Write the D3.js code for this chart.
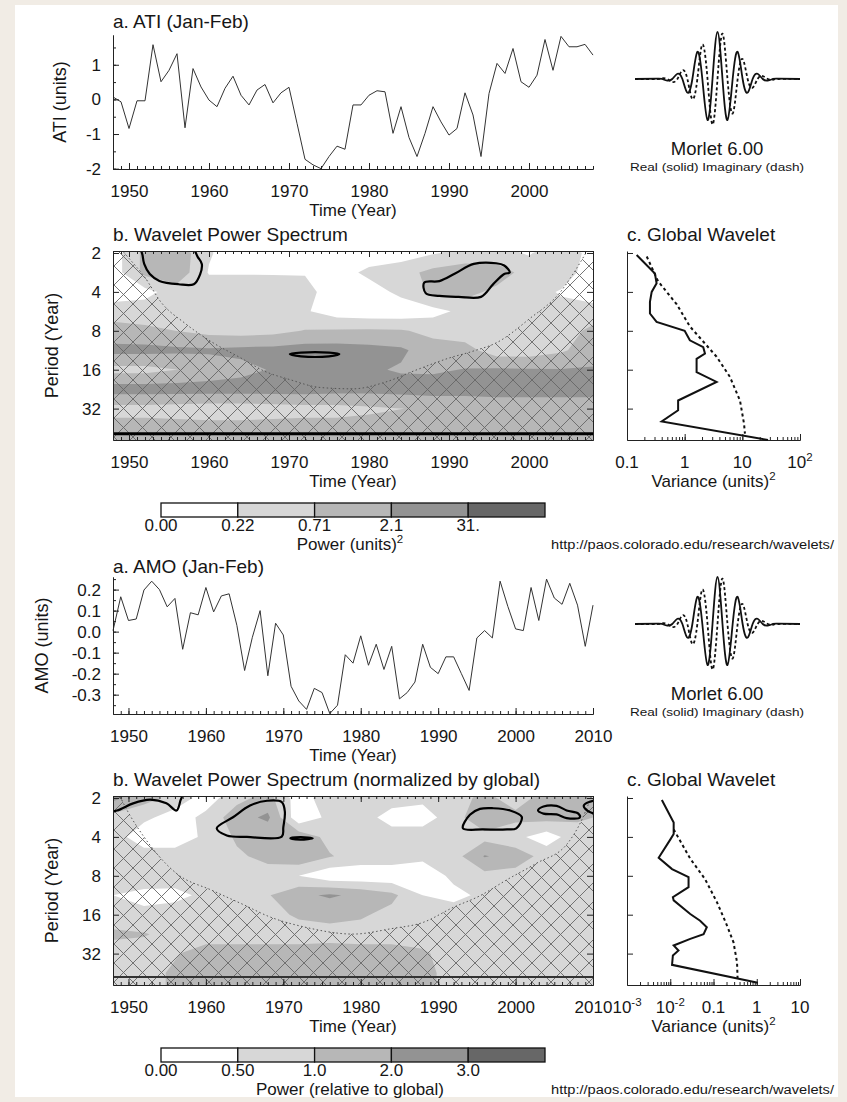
<!DOCTYPE html>
<html>
<head>
<meta charset="utf-8">
<title>Wavelet analysis ATI / AMO</title>
<script src="https://cdn.jsdelivr.net/npm/d3@7/dist/d3.min.js"></script>
<style>
  body { margin: 0; background: #f1ece5; }
  svg text { font-family: "Liberation Sans", Arial, sans-serif; fill: #161616; }
</style>
</head>
<body>
<div id="chart-area"></div>
<script>
// ---------------- data ----------------

// a. ATI (Jan-Feb), 1948-2008
var atiStart = 1948;
var atiValues = [
  0.07, -0.07, -0.84, -0.04, -0.04, 1.58, 0.51, 0.84, 1.32, -0.82,
  0.89, 0.36, -0.02, -0.21, 0.32, 0.67, 0.12, -0.16, 0.27, 0.43,
  -0.10, 0.19, 0.35, -0.69, -1.73, -1.89, -2.00, -1.65, -1.35, -1.44,
  -0.16, -0.16, 0.12, 0.25, 0.22, -0.98, -0.21, -1.10, -1.65, -0.98,
  -0.21, -0.65, -1.03, -0.84, 0.19, -0.45, -1.65, 0.17, 1.04, 0.75,
  1.47, 0.51, 0.35, 0.70, 1.73, 0.84, 1.82, 1.52, 1.52, 1.59, 1.28
];
var atiTicks = [-2, -1, 0, 1];

// a. AMO (Jan-Feb), 1948-2010
var amoStart = 1948;
var amoValues = [
  0.005, 0.166, 0.053, 0.060, 0.198, 0.240, 0.200, 0.118, 0.158, -0.084,
  0.090, 0.080, 0.210, 0.094, 0.170, 0.180, 0.030, -0.185, -0.027, 0.100,
  -0.210, 0.040, -0.016, -0.260, -0.330, -0.370, -0.270, -0.290, -0.390, -0.350,
  -0.110, -0.150, -0.020, -0.160, -0.060, -0.180, -0.070, -0.320, -0.290, -0.240,
  -0.060, -0.170, -0.200, -0.120, -0.120, -0.200, -0.280, -0.030, 0.005, -0.030,
  0.240, 0.120, 0.013, 0.005, 0.210, 0.053, 0.250, 0.160, 0.130, 0.230,
  0.126, -0.070, 0.126
];
var amoTicks = [-0.3, -0.2, -0.1, 0.0, 0.1, 0.2];

// wavelet power grids: columns = gridYears, rows = gridPeriods
var gridYears = [1948, 1952, 1956, 1960, 1964, 1968, 1972, 1976, 1980, 1984, 1988, 1992, 1996, 2000, 2004, 2008];
var gridPeriods = [2, 2.83, 4, 5.66, 8, 11.3, 16, 22.6, 32, 45.3, 64];

var atiPower = [
  [0.12, 1.0, 1.6, 0.25, 0.10, 0.10, 0.10, 0.10, 0.10, 0.12, 0.20, 0.30, 0.30, 0.20, 0.45, 0.15],
  [0.12, 1.0, 1.6, 0.20, 0.20, 0.20, 0.20, 0.12, 0.30, 0.45, 1.0, 1.5, 1.4, 0.40, 0.40, 0.12],
  [0.10, 0.15, 0.40, 0.45, 0.45, 0.42, 0.35, 0.10, 0.12, 0.30, 0.90, 1.1, 0.50, 0.35, 0.20, 0.10],
  [0.45, 0.40, 0.35, 0.30, 0.30, 0.30, 0.25, 0.12, 0.10, 0.10, 0.15, 0.30, 0.50, 0.35, 0.30, 0.40],
  [1.05, 0.90, 0.70, 0.50, 0.45, 0.50, 0.75, 0.80, 0.85, 0.80, 0.50, 0.40, 0.35, 0.35, 0.45, 0.90],
  [3.0, 3.0, 2.6, 2.5, 2.8, 3.0, 3.5, 3.5, 3.0, 2.5, 1.2, 1.05, 0.40, 0.40, 0.60, 1.3],
  [0.50, 0.50, 0.70, 1.05, 1.5, 2.3, 2.6, 2.7, 2.4, 1.9, 1.8, 2.2, 2.4, 2.3, 2.2, 2.3],
  [3.5, 3.5, 3.5, 3.5, 3.5, 3.5, 3.5, 3.2, 3.0, 3.2, 3.5, 3.5, 3.8, 3.8, 3.8, 3.8],
  [0.50, 0.50, 0.45, 0.40, 0.40, 0.45, 0.50, 0.50, 0.60, 0.70, 0.80, 0.80, 0.90, 0.90, 0.90, 0.90],
  [1.05, 1.05, 1.05, 1.05, 1.05, 1.05, 1.05, 1.05, 1.05, 1.05, 1.05, 1.05, 1.05, 1.05, 1.05, 1.05],
  [1.05, 1.05, 1.05, 1.05, 1.05, 1.05, 1.05, 1.05, 1.05, 1.05, 1.05, 1.05, 1.05, 1.05, 1.05, 1.05]
];

var amoPower = [
  [2.4, 1.3, 0.80, 0.35, 0.80, 1.3, 0.35, 0.75, 0.75, 0.75, 0.60, 0.75, 1.2, 0.75, 1.3, 1.3],
  [0.80, 0.60, 0.35, 0.60, 1.5, 2.3, 0.30, 0.60, 0.75, 0.35, 0.35, 0.75, 1.7, 1.2, 1.3, 1.1],
  [0.75, 0.30, 0.30, 0.60, 1.1, 1.2, 1.6, 0.80, 0.50, 0.75, 0.75, 0.75, 0.80, 0.60, 0.35, 0.75],
  [0.80, 0.75, 0.75, 0.80, 0.90, 1.2, 1.7, 1.05, 0.75, 0.75, 0.60, 0.75, 2.1, 1.5, 0.75, 0.70],
  [0.75, 0.80, 0.75, 0.75, 0.75, 0.75, 0.50, 0.30, 0.30, 0.30, 0.30, 0.60, 0.80, 0.75, 0.75, 0.60],
  [0.50, 0.40, 0.40, 0.60, 0.75, 0.95, 1.7, 2.2, 1.7, 1.2, 0.50, 0.40, 0.60, 0.75, 0.75, 0.75],
  [0.75, 0.60, 0.75, 0.75, 0.75, 0.80, 1.1, 1.2, 1.1, 0.80, 0.75, 0.75, 0.60, 0.75, 0.75, 0.75],
  [1.1, 1.05, 0.80, 0.75, 0.75, 0.75, 0.75, 0.80, 0.75, 0.75, 0.75, 0.60, 0.75, 0.75, 0.80, 0.80],
  [0.80, 0.75, 0.95, 1.3, 1.3, 1.3, 1.3, 1.3, 1.3, 1.3, 1.1, 0.75, 0.75, 0.75, 0.75, 0.75],
  [0.80, 0.80, 1.1, 1.3, 1.3, 1.3, 1.3, 1.3, 1.3, 1.3, 1.2, 0.80, 0.80, 0.80, 0.80, 0.80],
  [0.80, 0.80, 1.1, 1.3, 1.3, 1.3, 1.3, 1.3, 1.3, 1.3, 1.2, 0.80, 0.80, 0.80, 0.80, 0.80]
];

// contour levels and colour bar labels
var atiLevels = [0.22, 0.71, 2.1, 31];
var atiLevelLabels = ["0.00", "0.22", "0.71", "2.1", "31."];
var amoLevels = [0.5, 1.0, 2.0, 3.0];
var amoLevelLabels = ["0.00", "0.50", "1.0", "2.0", "3.0"];
var shades = ["#ffffff", "#d7d7d7", "#b7b7b7", "#939393", "#676767"];

// cone of influence
var atiCoiYears = [1948, 1950, 1952, 1954, 1957, 1960.5, 1964, 1967, 1970, 1974, 1978, 1982, 1986, 1990, 1993, 1996, 2000, 2004, 2006, 2008];
var atiCoiPeriods = [1.6, 2.2, 3.1, 4.8, 7.0, 9.9, 13, 16.5, 19, 22, 22.5, 20, 16, 13, 11.5, 9.85, 6.5, 3.95, 2.6, 1.6];
var amoCoiYears = [1948, 1950, 1952, 1956, 1961, 1965, 1968, 1973, 1979, 1984, 1988, 1992, 1995.3, 1999, 2002.7, 2006.7, 2008.5, 2010];
var amoCoiPeriods = [1.5, 2.6, 4.0, 7.5, 10.5, 13.5, 16.4, 20.1, 22.6, 20.5, 18.4, 14, 11.5, 8.5, 6.4, 4.5, 3, 1.8];

// significance contours [year, period]
var atiSignif = [
  [[1951.6, 1.85], [1951.7, 2.09], [1951.9, 2.43], [1952.6, 2.91], [1953.8, 3.29], [1956.2, 3.49], [1958.1, 3.49], [1958.9, 2.91], [1959.1, 2.43], [1958.6, 2.15], [1957.9, 1.85]],
  [[1986.9, 3.39], [1987.1, 4.1], [1988.8, 4.3], [1991.2, 4.37], [1994.0, 4.37], [1995.5, 3.5], [1996.9, 2.91], [1997.6, 2.83], [1996.9, 2.5], [1995.9, 2.4], [1993.1, 2.43], [1990.7, 2.9], [1988.8, 3.3]],
  [[1970.1, 12.1], [1971.5, 11.8], [1975.0, 11.8], [1976.3, 12.1], [1975.0, 12.6], [1971.5, 12.6]]
];
var amoSignif = [
  [[1947, 1.85], [1947, 2.56], [1948.5, 2.5], [1950.6, 2.2], [1952.8, 2.06], [1954.9, 2.2], [1956.2, 2.5], [1956.7, 2.1], [1956.9, 1.85]],
  [[1961.4, 3.43], [1963.5, 2.82], [1965.7, 2.29], [1967.9, 2.10], [1969.8, 2.15], [1970.2, 2.56], [1970.0, 3.37], [1969.8, 3.98], [1965.3, 4.0], [1962.7, 3.9]],
  [[1970.9, 4.1], [1972.2, 4.02], [1973.8, 4.1], [1972.2, 4.2]],
  [[1993.2, 3.43], [1994.1, 2.7], [1995.4, 2.43], [1997.1, 2.4], [1999.3, 2.5], [2000.8, 2.8], [2000.1, 3.43], [1998.9, 3.5], [1995.8, 3.5]],
  [[2002.9, 2.5], [2003.6, 2.33], [2005.3, 2.3], [2006.6, 2.5], [2008.1, 2.64], [2008.3, 2.83], [2006.6, 2.86], [2005.3, 2.68], [2003.6, 2.64]],
  [[2008.8, 2.3], [2009.5, 2.15], [2011, 2.1], [2011, 2.6], [2009.5, 2.56]]
];
var atiFloorPeriod = 50;
var amoFloorPeriod = 48.5;

// c. global wavelet spectra and significance
var atiGlobalPeriods = [2.07, 2.88, 3.43, 4.0, 4.78, 5.88, 6.83, 8.0, 9.48, 10.7, 12.0, 13.2, 16.7, 19.9, 27.7, 33.0, 40.2, 56];
var atiGlobalPower = [0.147, 0.305, 0.326, 0.268, 0.25, 0.25, 0.326, 1.0, 1.23, 2.10, 2.25, 1.61, 1.61, 3.58, 0.77, 0.77, 0.40, 27.9];
var atiSignifPeriods = [2.13, 3.3, 5.0, 7.4, 12.7, 18.2, 27.7, 41.9, 50];
var atiSignifPower = [0.22, 0.345, 0.73, 1.23, 3.58, 6.1, 9.1, 10.7, 11.1];
var atiGlobalTicks = [0.1, 1, 10, 100];
var atiGlobalTickText = ["0.1", "1", "10", "10^2"];

var amoGlobalPeriods = [2.07, 3.1, 3.5, 3.8, 4.2, 5.8, 7.1, 8.2, 9.8, 11.7, 12.4, 15.8, 17.8, 20.0, 22.6, 24.6, 27.7, 30.3, 33.1, 39.1, 53.8];
var amoGlobalPower = [0.0064, 0.012, 0.012, 0.012, 0.010, 0.0054, 0.011, 0.0265, 0.0265, 0.0115, 0.012, 0.029, 0.049, 0.070, 0.059, 0.029, 0.012, 0.0155, 0.0115, 0.011, 1.06];
var amoSignifPeriods = [3.5, 5.9, 8.5, 12.8, 19.4, 26.2, 37.3, 50];
var amoSignifPower = [0.012, 0.029, 0.064, 0.12, 0.205, 0.29, 0.35, 0.36];
var amoGlobalTicks = [0.001, 0.01, 0.1, 1, 10];
var amoGlobalTickText = ["10^-3", "10^-2", "0.1", "1", "10"];

// Morlet 6 mother wavelet, read at quarter-wave steps
var morletT = [-4.3, -3.14, -2.88, -2.62, -2.36, -2.09, -1.83, -1.57, -1.31, -1.05, -0.79, -0.52, -0.26, 0,
  0.26, 0.52, 0.79, 1.05, 1.31, 1.57, 1.83, 2.09, 2.36, 2.62, 2.88, 3.14, 4.3];
var morletReal = [0, 0.007, 0, -0.033, 0, 0.112, 0, -0.291, 0, 0.578, 0, -0.872, 0, 1,
  0, -0.872, 0, 0.578, 0, -0.291, 0, 0.112, 0, -0.033, 0, 0.007, 0];
var morletImag = [0, 0, 0.016, 0, -0.062, 0, 0.186, 0, -0.425, 0, 0.735, 0, -0.966, 0,
  0.966, 0, -0.735, 0, 0.425, 0, -0.186, 0, 0.062, 0, -0.016, 0, 0];

// ---------------- layout ----------------
var left = 113, right = 593;
var serBot = 169;
var specTop = 251, specBot = 440;
var gLeft = 627, gRight = 800;
var tickFont = 17;

var svg = d3.select("#chart-area").append("svg")
  .attr("width", 847)
  .attr("height", 1102);

svg.append("rect")
  .attr("x", 15).attr("y", 5)
  .attr("width", 823).attr("height", 1092)
  .attr("fill", "#ffffff");

var defs = svg.append("defs");
defs.append("pattern")
  .attr("id", "hatch")
  .attr("patternUnits", "userSpaceOnUse")
  .attr("width", 19).attr("height", 19)
  .append("path")
    .attr("d", "M0,0L19,19M19,0L0,19")
    .attr("stroke", "#666")
    .attr("stroke-width", 0.9)
    .attr("fill", "none");

function addAxis(parent, axis, tx, ty) {
  var a = parent.append("g")
    .attr("transform", "translate(" + tx + "," + ty + ")")
    .call(axis);
  a.attr("font-size", tickFont).attr("font-family", null).style("color", "#222");
  return a;
}

function addText(parent, x, y, str, size, anchor) {
  return parent.append("text")
    .attr("x", x).attr("y", y)
    .attr("font-size", size)
    .attr("text-anchor", anchor || "start")
    .text(str);
}

function fixed(k) {
  return function(d) { return d.toFixed(k); };
}

function drawSet(cfg) {
  var g = svg.append("g").attr("transform", "translate(0," + cfg.oy + ")");
  var x = d3.scaleLinear().domain([cfg.start, cfg.xEnd]).range([left, right]);
  var years = d3.range(cfg.start, cfg.xEnd + 1);

  // ---- a. time series ----
  var y = d3.scaleLinear().domain(cfg.yDomain).range([serBot, cfg.serTop]);
  addText(g, left, 28, cfg.titleA, 19);

  g.append("path")
    .datum(cfg.values)
    .attr("fill", "none")
    .attr("stroke", "#333")
    .attr("stroke-width", 1)
    .attr("d", d3.line()
      .x(function(d, i) { return x(cfg.start + i); })
      .y(function(d) { return y(d); }));

  addAxis(g, d3.axisBottom(x).tickValues(years).tickSize(-3).tickSizeOuter(0).tickFormat(""), 0, serBot);
  addAxis(g, d3.axisBottom(x).tickValues(cfg.decades).tickSize(-6).tickSizeOuter(0)
    .tickPadding(16).tickFormat(d3.format("d")), 0, serBot);
  addAxis(g, d3.axisLeft(y).tickValues(cfg.yMinor).tickSize(-3).tickSizeOuter(0).tickFormat(""), left, 0);
  addAxis(g, d3.axisLeft(y).tickValues(cfg.yTicks).tickSize(-6).tickSizeOuter(0)
    .tickPadding(12).tickFormat(fixed(cfg.yDigits)), left, 0);

  addText(g, (left + right) / 2, 216, "Time (Year)", 17, "middle");
  addText(g, 0, 0, cfg.yLabel, 18, "middle")
    .attr("dy", "0.35em")
    .attr("transform", "translate(" + cfg.yLabelX + "," + ((serBot + cfg.serTop) / 2) + ") rotate(-90)");

  // ---- Morlet wavelet ----
  var mx = d3.scaleLinear().domain([-4.3, 4.3]).range([635, 800]);
  var my = d3.scaleLinear().domain([-1, 1]).range([126, 32]);
  var mline = function(vals) {
    return d3.line().curve(d3.curveNatural)
      .x(function(d, i) { return mx(morletT[i]); })
      .y(function(d) { return my(d); })(vals);
  };
  g.append("path").attr("d", mline(morletImag))
    .attr("fill", "none").attr("stroke", "#111").attr("stroke-width", 1.8)
    .attr("stroke-dasharray", "3,2.5");
  g.append("path").attr("d", mline(morletReal))
    .attr("fill", "none").attr("stroke", "#111").attr("stroke-width", 1.8);
  addText(g, 717, 155, "Morlet 6.00", 18.5, "middle");
  addText(g, 717, 171, "Real (solid)  Imaginary (dash)", 11, "middle")
    .attr("textLength", 174).attr("lengthAdjust", "spacingAndGlyphs");

  // ---- b. wavelet power spectrum ----
  var py = d3.scaleLog().base(2).domain([1.93, 56]).range([specTop, specBot]);
  addText(g, left, 241, cfg.titleB, 19);

  var clipId = "clip-" + cfg.id;
  g.append("clipPath").attr("id", clipId)
    .append("rect")
      .attr("x", left).attr("y", specTop)
      .attr("width", right - left).attr("height", specBot - specTop);
  var spec = g.append("g").attr("clip-path", "url(#" + clipId + ")");

  spec.append("rect")
    .attr("x", left).attr("y", specTop)
    .attr("width", right - left).attr("height", specBot - specTop)
    .attr("fill", shades[0]);

  var n = gridYears.length, m = gridPeriods.length;
  var flat = [];
  cfg.power.forEach(function(row) {
    row.forEach(function(v) { flat.push(Math.log(v)); });
  });
  var gxYear = d3.scaleLinear().domain([0.5, n - 0.5]).range([gridYears[0], gridYears[n - 1]]);
  var gyLog = d3.scaleLinear().domain([0.5, m - 0.5])
    .range([Math.log2(gridPeriods[0]), Math.log2(gridPeriods[m - 1])]);
  var proj = d3.geoTransform({
    point: function(px, pv) {
      this.stream.point(x(gxYear(px)), py(Math.pow(2, gyLog(pv))));
    }
  });
  var bands = d3.contours()
    .size([n, m])
    .thresholds(cfg.levels.map(Math.log))(flat);

  spec.selectAll("path.band")
    .data(bands)
    .enter()
    .append("path")
      .attr("class", "band")
      .attr("d", d3.geoPath(proj))
      .attr("fill", function(d, i) { return shades[i + 1]; });

  // cone of influence
  var coi = cfg.coiYears.map(function(yr, i) { return { year: yr, period: cfg.coiPeriods[i] }; });
  spec.append("path")
    .datum(coi)
    .attr("fill", "url(#hatch)")
    .attr("d", d3.area().curve(d3.curveMonotoneX)
      .x(function(d) { return x(d.year); })
      .y0(specBot + 10)
      .y1(function(d) { return py(d.period); }));
  spec.append("path")
    .datum(coi)
    .attr("fill", "none")
    .attr("stroke", "#555")
    .attr("stroke-width", 1)
    .attr("stroke-dasharray", "1.5,2.5")
    .attr("d", d3.line().curve(d3.curveMonotoneX)
      .x(function(d) { return x(d.year); })
      .y(function(d) { return py(d.period); }));

  // significance contours
  spec.selectAll("path.sig")
    .data(cfg.signif)
    .enter()
    .append("path")
      .attr("class", "sig")
      .attr("fill", "none")
      .attr("stroke", "#000")
      .attr("stroke-width", 2.2)
      .attr("d", d3.line().curve(d3.curveCatmullRomClosed)
        .x(function(d) { return x(d[0]); })
        .y(function(d) { return py(d[1]); }));

  spec.append("line")
    .attr("x1", left).attr("x2", right)
    .attr("y1", py(cfg.floorPeriod)).attr("y2", py(cfg.floorPeriod))
    .attr("stroke", cfg.floorColor)
    .attr("stroke-width", cfg.floorWidth);

  addAxis(g, d3.axisBottom(x).tickValues(years).tickSize(-3).tickSizeOuter(0).tickFormat(""), 0, specBot);
  addAxis(g, d3.axisBottom(x).tickValues(cfg.decades).tickSize(-6).tickSizeOuter(0)
    .tickPadding(16).tickFormat(d3.format("d")), 0, specBot);
  addAxis(g, d3.axisTop(x).tickValues(years).tickSize(-3).tickSizeOuter(0).tickFormat(""), 0, specTop);
  addAxis(g, d3.axisTop(x).tickValues(cfg.decades).tickSize(-6).tickSizeOuter(0).tickFormat(""), 0, specTop);
  addAxis(g, d3.axisLeft(py).tickValues([2, 4, 8, 16, 32]).tickSize(-6).tickSizeOuter(0)
    .tickPadding(12).tickFormat(d3.format("d")), left, 0);
  addAxis(g, d3.axisRight(py).tickValues([2, 4, 8, 16, 32]).tickSize(-6).tickSizeOuter(0).tickFormat(""), right, 0);

  addText(g, (left + right) / 2, 487, "Time (Year)", 17, "middle");
  addText(g, 0, 0, "Period (Year)", 18, "middle")
    .attr("dy", "0.35em")
    .attr("transform", "translate(52," + ((specTop + specBot) / 2) + ") rotate(-90)");

  // ---- c. global wavelet ----
  addText(g, gLeft, 241, "c. Global Wavelet", 19);
  var gx = d3.scaleLog().domain(cfg.gDomain).range([gLeft, gRight]);
  var minor = [];
  d3.range(Math.round(Math.log10(cfg.gDomain[0])), Math.round(Math.log10(cfg.gDomain[1]))).forEach(function(e) {
    d3.range(1, 10).forEach(function(k) { minor.push(k * Math.pow(10, e)); });
  });
  minor.push(cfg.gDomain[1]);
  addAxis(g, d3.axisBottom(gx).tickValues(minor).tickSize(-3).tickSizeOuter(0).tickFormat(""), 0, specBot);
  addAxis(g, d3.axisBottom(gx).tickValues(cfg.gTicks).tickSize(-6).tickSizeOuter(0).tickFormat(""), 0, specBot);
  addAxis(g, d3.axisLeft(py).tickValues([2, 4, 8, 16, 32]).tickSize(-6).tickSizeOuter(0).tickFormat(""), gLeft, 0);

  var gl = g.selectAll("text.gtick")
    .data(cfg.gTicks)
    .enter()
    .append("text")
      .attr("class", "gtick")
      .attr("x", function(d) { return gx(d); })
      .attr("y", 468)
      .attr("font-size", tickFont)
      .attr("text-anchor", "middle");
  gl.each(function(d, i) {
    var parts = cfg.gTickText[i].split("^");
    var t = d3.select(this);
    t.append("tspan").text(parts[0]);
    if (parts[1]) {
      t.append("tspan").attr("dy", -7).attr("font-size", 11.5).text(parts[1]);
    }
  });

  var lineG = d3.line()
    .x(function(d) { return gx(d[1]); })
    .y(function(d) { return py(d[0]); });
  g.append("path")
    .datum(d3.zip(cfg.sigPeriods, cfg.sigPower))
    .attr("fill", "none").attr("stroke", "#111").attr("stroke-width", 2)
    .attr("stroke-dasharray", "3,3")
    .attr("d", lineG);
  g.append("path")
    .datum(d3.zip(cfg.gPeriods, cfg.gPower))
    .attr("fill", "none").attr("stroke", "#111").attr("stroke-width", 2)
    .attr("d", lineG);

  var vt = addText(g, (gLeft + gRight) / 2, 487, "Variance (units)", 17, "middle");
  vt.append("tspan").attr("dy", -7).attr("font-size", 11.5).text("2");

  // ---- colour bar ----
  var cb = d3.scaleBand().domain(d3.range(shades.length)).range([161, 545]);
  g.selectAll("rect.cb")
    .data(shades)
    .enter()
    .append("rect")
      .attr("class", "cb")
      .attr("x", function(d, i) { return cb(i); })
      .attr("y", 503)
      .attr("width", cb.bandwidth())
      .attr("height", 14)
      .attr("fill", function(d) { return d; })
      .attr("stroke", "#111")
      .attr("stroke-width", 1.3);
  g.selectAll("text.cbl")
    .data(cfg.levelLabels)
    .enter()
    .append("text")
      .attr("class", "cbl")
      .attr("x", function(d, i) { return cb(i); })
      .attr("y", 531)
      .attr("font-size", tickFont)
      .attr("text-anchor", "middle")
      .text(function(d) { return d; });

  var pt = addText(g, 350, 550, cfg.powerLabel, 17, "middle");
  if (cfg.powerSup) {
    pt.append("tspan").attr("dy", -7).attr("font-size", 11.5).text("2");
  }
  addText(g, 551, 549, "http://paos.colorado.edu/research/wavelets/", 12)
    .attr("textLength", 283).attr("lengthAdjust", "spacingAndGlyphs");
}

drawSet({
  id: "ati", oy: 0,
  titleA: "a. ATI (Jan-Feb)", yLabel: "ATI (units)", yLabelX: 60,
  start: atiStart, xEnd: 2008, values: atiValues,
  decades: [1950, 1960, 1970, 1980, 1990, 2000],
  yDomain: [-2.01, 1.86], serTop: 35,
  yTicks: atiTicks, yMinor: d3.range(-2, 1.6, 0.5), yDigits: 0,
  titleB: "b. Wavelet Power Spectrum",
  power: atiPower, levels: atiLevels, levelLabels: atiLevelLabels,
  coiYears: atiCoiYears, coiPeriods: atiCoiPeriods,
  signif: atiSignif, floorPeriod: atiFloorPeriod, floorColor: "#000", floorWidth: 3,
  gDomain: [0.1, 100], gTicks: atiGlobalTicks, gTickText: atiGlobalTickText,
  gPeriods: atiGlobalPeriods, gPower: atiGlobalPower,
  sigPeriods: atiSignifPeriods, sigPower: atiSignifPower,
  powerLabel: "Power (units)", powerSup: true
});

drawSet({
  id: "amo", oy: 545,
  titleA: "a. AMO (Jan-Feb)", yLabel: "AMO (units)", yLabelX: 42,
  start: amoStart, xEnd: 2010, values: amoValues,
  decades: [1950, 1960, 1970, 1980, 1990, 2000, 2010],
  yDomain: [-0.392, 0.26], serTop: 32,
  yTicks: amoTicks, yMinor: d3.range(-0.35, 0.26, 0.05), yDigits: 1,
  titleB: "b. Wavelet Power Spectrum (normalized by global)",
  power: amoPower, levels: amoLevels, levelLabels: amoLevelLabels,
  coiYears: amoCoiYears, coiPeriods: amoCoiPeriods,
  signif: amoSignif, floorPeriod: amoFloorPeriod, floorColor: "#333", floorWidth: 2,
  gDomain: [0.001, 10], gTicks: amoGlobalTicks, gTickText: amoGlobalTickText,
  gPeriods: amoGlobalPeriods, gPower: amoGlobalPower,
  sigPeriods: amoSignifPeriods, sigPower: amoSignifPower,
  powerLabel: "Power (relative to global)", powerSup: false
});
</script>
</body>
</html>
